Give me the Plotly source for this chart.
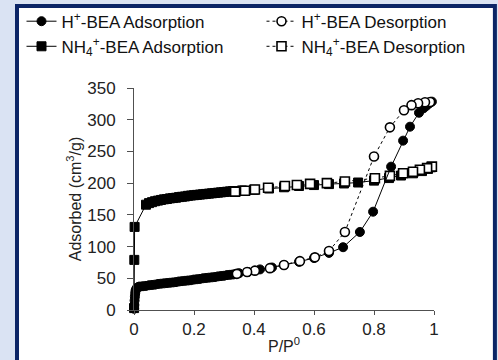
import plotly.graph_objects as go

# ---- data ----
h_ads_p = [0.0005, 0.001, 0.002, 0.003, 0.004, 0.005, 0.007, 0.01, 0.015,
           0.02, 0.03, 0.04, 0.05, 0.06, 0.07, 0.08, 0.09, 0.10, 0.11, 0.12,
           0.13, 0.14, 0.15, 0.16, 0.17, 0.18, 0.19, 0.20, 0.21, 0.22, 0.23,
           0.24, 0.25, 0.26, 0.27, 0.28, 0.29, 0.30, 0.31, 0.32, 0.33, 0.34,
           0.35, 0.38, 0.42, 0.46, 0.50, 0.55, 0.60, 0.65, 0.697, 0.753,
           0.797, 0.857, 0.897, 0.92, 0.95, 0.965, 0.975, 0.985, 0.993]
h_ads_v = [2, 8, 15, 21, 26, 30, 33, 35, 36.5,
           37, 37.5, 38, 39, 39.5, 40, 41, 41.5, 42, 42.5, 43,
           43.5, 44, 45, 45.5, 46, 46.5, 47, 48, 48.5, 49, 50,
           50.5, 51, 51.5, 52, 53, 53.5, 54, 55, 55.5, 56, 57,
           58, 60, 64, 67, 71, 76, 82, 90, 99, 123,
           155, 226, 267, 289, 311, 318, 322, 326, 328.5]

h_des_p = [0.987, 0.97, 0.947, 0.925, 0.90, 0.853, 0.80, 0.703, 0.65, 0.603,
           0.553, 0.50, 0.453, 0.403, 0.377, 0.343]
h_des_v = [328, 327.5, 326, 323, 315, 288, 242, 123, 93, 83,
           77, 71, 66, 62, 60, 57]

nh_ads_p = [0.0003, 0.001, 0.002, 0.04, 0.05, 0.06, 0.07, 0.08, 0.09, 0.10,
            0.11, 0.12, 0.13, 0.14, 0.15, 0.16, 0.17, 0.18, 0.19, 0.20, 0.21,
            0.22, 0.23, 0.24, 0.25, 0.26, 0.27, 0.28, 0.29, 0.30, 0.31, 0.32,
            0.33, 0.36, 0.40, 0.45, 0.50, 0.55, 0.60, 0.65, 0.70, 0.747,
            0.80, 0.85, 0.89, 0.93, 0.96, 0.98, 0.99]
nh_ads_v = [3, 79, 131, 166, 168.5, 170, 171.5, 172.5, 173.5, 174.5,
            175, 176, 176.5, 177, 178, 178.5, 179, 180, 180.5, 181, 181.5,
            182, 182.5, 183, 183.5, 184, 184.5, 185, 185.5, 186, 186.5, 187,
            187.5, 188.5, 189.5, 191.5, 193.5, 195.5, 197, 198.5, 199.5, 201,
            204, 208, 212, 215.5, 219, 222.5, 225]

nh_des_p = [0.993, 0.977, 0.953, 0.93, 0.897, 0.853, 0.803, 0.703, 0.643,
            0.587, 0.543, 0.503, 0.447, 0.403, 0.37, 0.337]
nh_des_v = [226, 223.6, 221, 218, 215.6, 211.4, 207.7, 202.6, 200,
            198.8, 197, 195.6, 192.8, 190, 188, 186.6]

x_ticks = [0, 0.2, 0.4, 0.6, 0.8, 1]
x_tick_text = ["0", "0.2", "0.4", "0.6", "0.8", "1"]
y_ticks = [0, 50, 100, 150, 200, 250, 300, 350]

NAVY = "#0b2566"
AX = "#505050"
FONT = "Liberation Sans, Arial, sans-serif"
MS = 9

fig = go.Figure()

fig.add_trace(go.Scatter(
    x=nh_ads_p, y=nh_ads_v, mode="lines+markers",
    name="NH<sub>4</sub><sup>+</sup>-BEA Adsorption",
    line=dict(color="#000000", width=1),
    marker=dict(symbol="square", size=MS, color="#000000",
                line=dict(color="#000000", width=1)),
    cliponaxis=False, legend="legend", legendrank=2))
fig.add_trace(go.Scatter(
    x=nh_des_p, y=nh_des_v, mode="lines+markers",
    name="NH<sub>4</sub><sup>+</sup>-BEA Desorption",
    line=dict(color="#000000", width=1, dash="3px,3px"),
    marker=dict(symbol="square", size=MS, color="#ffffff",
                line=dict(color="#000000", width=1.6)),
    cliponaxis=False, legend="legend2", legendrank=2))
fig.add_trace(go.Scatter(
    x=h_ads_p, y=h_ads_v, mode="lines+markers",
    name="H<sup>+</sup>-BEA Adsorption",
    line=dict(color="#000000", width=1),
    marker=dict(symbol="circle", size=MS, color="#000000",
                line=dict(color="#000000", width=1)),
    cliponaxis=False, legend="legend", legendrank=1))
fig.add_trace(go.Scatter(
    x=h_des_p, y=h_des_v, mode="lines+markers",
    name="H<sup>+</sup>-BEA Desorption",
    line=dict(color="#000000", width=1, dash="3px,3px"),
    marker=dict(symbol="circle", size=MS, color="#ffffff",
                line=dict(color="#000000", width=1.6)),
    cliponaxis=False, legend="legend2", legendrank=1))

legend_common = dict(xanchor="left", yanchor="top", bgcolor="rgba(0,0,0,0)",
                     font=dict(size=17, family=FONT, color="#111111"),
                     itemwidth=30, traceorder="normal")

fig.update_layout(
    width=498, height=360,
    margin=dict(l=134, r=64, t=88, b=50, autoexpand=False),
    paper_bgcolor="#dae3f3",
    plot_bgcolor="rgba(0,0,0,0)",
    font=dict(family=FONT, color="#222222"),
    showlegend=True,
    legend=dict(x=-0.375, y=1.38, **legend_common),
    legend2=dict(x=0.425, y=1.38, **legend_common),
    xaxis=dict(range=[0, 1], tickvals=x_ticks, ticktext=x_tick_text,
               ticks="outside", ticklen=4, tickcolor=AX, tickwidth=1,
               showline=True, linecolor=AX, linewidth=1,
               showgrid=False, zeroline=False,
               tickfont=dict(size=17, family=FONT, color="#222222"),
               title=dict(text="P/P<sup>0</sup>", standoff=2,
                          font=dict(size=16, family=FONT, color="#222222"))),
    yaxis=dict(range=[0, 350], tickvals=y_ticks,
               ticks="outside", ticklen=6, tickcolor=AX, tickwidth=1,
               showline=True, linecolor=AX, linewidth=1,
               showgrid=False, zeroline=False,
               ticklabelstandoff=8,
               tickfont=dict(size=17, family=FONT, color="#222222"),
               title=dict(text="Adsorbed (cm<sup>3</sup>/g)", standoff=1,
                          font=dict(size=16, family=FONT, color="#222222"))),
    xaxis2=dict(overlaying="x", anchor="y", range=[0, 1], tickvals=x_ticks,
                ticks="inside", ticklen=4, tickcolor=AX, tickwidth=1,
                showticklabels=False, showline=False, showgrid=False,
                zeroline=False),
    yaxis2=dict(overlaying="y", anchor="x", side="left", range=[0, 350],
                tickvals=y_ticks, ticks="inside", ticklen=6, tickcolor=AX,
                tickwidth=1, showticklabels=False, showline=False,
                showgrid=False, zeroline=False),
    shapes=[dict(type="rect", xref="paper", yref="paper",
                 x0=-0.39, x1=1.203, y0=-0.35, y1=1.369,
                 line=dict(color=NAVY, width=4), fillcolor="#ffffff",
                 layer="below")],
)

fig.write_html(
    "out.html",
    config={"displayModeBar": False},
    post_script="document.body.style.margin='0px';"
                "document.body.style.background='#dae3f3';",
)
